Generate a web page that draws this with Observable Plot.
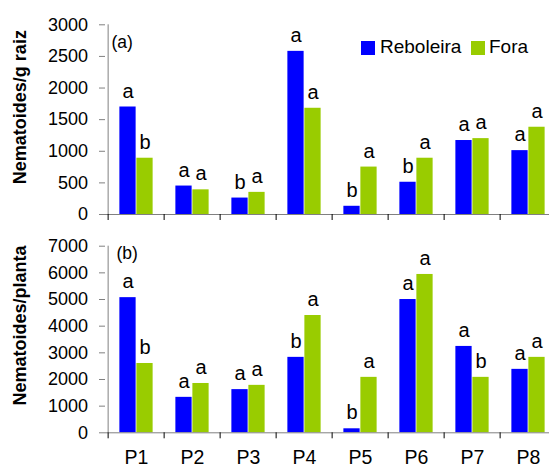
<!DOCTYPE html>
<html>
<head>
<meta charset="utf-8">
<script src="https://cdn.jsdelivr.net/npm/d3@7"></script>
<script src="https://cdn.jsdelivr.net/npm/@observablehq/plot@0.6"></script>
<style>
  html, body { margin: 0; padding: 0; background: #fff; overflow: hidden; }
  #chart { position: relative; width: 549px; height: 468px; font-family: "Liberation Sans", Arial, sans-serif; }
  #chart svg { display: block; overflow: visible; }
  .legend { position: absolute; top: 0; left: 0; font-size: 19px; color: #000; line-height: 19px; }
  .legend .sw { position: absolute; width: 14px; height: 14px; }
  .legend .lb { position: absolute; white-space: nowrap; }
</style>
</head>
<body>
<div id="chart"></div>
<script>
// ---- data ----
const categories = ["P1", "P2", "P3", "P4", "P5", "P6", "P7", "P8"];
const seriesNames = ["Reboleira", "Fora"];
const seriesColors = ["#0000FF", "#99CC00"];

const raizReboleira = [1700, 450, 260, 2580, 130, 510, 1170, 1010];
const raizFora      = [890, 390, 350, 1680, 750, 890, 1200, 1380];
const raizLetrasReboleira = ["a", "a", "b", "a", "b", "b", "a", "a"];
const raizLetrasFora      = ["b", "a", "a", "a", "a", "a", "a", "a"];
const raizTicks = [0, 500, 1000, 1500, 2000, 2500, 3000];

const plantaReboleira = [5070, 1330, 1620, 2830, 150, 5000, 3240, 2380];
const plantaFora      = [2600, 1850, 1780, 4400, 2080, 5940, 2080, 2830];
const plantaLetrasReboleira = ["a", "a", "a", "b", "b", "a", "a", "a"];
const plantaLetrasFora      = ["b", "a", "a", "a", "a", "a", "b", "a"];
const plantaTicks = [0, 1000, 2000, 3000, 4000, 5000, 6000, 7000];

const titles = ["Nematoides/g raiz", "Nematoides/planta"];
const panelTags = ["(a)", "(b)"];

// ---- layout ----
const W = 549;
const xStart = 105, xEnd = 559;
const step = (xEnd - xStart) / categories.length;
const barW = 17;
const inset = (step - barW) / 2;
const FONT = "Liberation Sans, Arial, sans-serif";
const axisGray = "#808080";

function panel(o) {
  const rowsR = categories.map((c, i) => ({cat: c, value: o.reb[i], letter: o.letR[i]}));
  const rowsF = categories.map((c, i) => ({cat: c, value: o.fora[i], letter: o.letF[i]}));
  const marks = [
    Plot.barY(rowsR, {x: "cat", y: "value", fill: seriesColors[0], insetLeft: inset, insetRight: inset, dx: -barW / 2}),
    Plot.barY(rowsF, {x: "cat", y: "value", fill: seriesColors[1], insetLeft: inset, insetRight: inset, dx: barW / 2}),
    Plot.text(rowsR, {x: "cat", y: "value", text: "letter", dx: -barW / 2, dy: -9.5, lineAnchor: "bottom", fontSize: 20, fill: "#000"}),
    Plot.text(rowsF, {x: "cat", y: "value", text: "letter", dx: barW / 2, dy: -9.5, lineAnchor: "bottom", fontSize: 20, fill: "#000"}),
    Plot.ruleY([0], {stroke: axisGray}),
    Plot.ruleX([categories[0]], {x: d => d, y1: o.yTicks[0], y2: o.yTicks[o.yTicks.length - 1], dx: -step / 2, stroke: axisGray}),
    Plot.axisY({ticks: o.yTicks, tickFormat: d3.format("d"), tickSize: 6, tickPadding: 11.5, fontSize: 18, stroke: axisGray, fill: "#000", label: null}),
    Plot.axisX({tickSize: 6, fill: "none", stroke: "#000", dx: -step / 2, label: null}),
    Plot.text([o.title], {text: d => d, frameAnchor: "left", rotate: -90, dx: 20 - xStart, dy: o.titleDy, fontSize: 18, fontWeight: "bold", textAnchor: "middle", lineAnchor: "middle", fill: "#000"}),
    Plot.text([o.tag], {text: d => d, frameAnchor: "top-left", dx: o.tagDx, dy: o.tagDy, fontSize: 17.5, textAnchor: "start", lineAnchor: "bottom", fill: "#000"})
  ];
  if (o.showX) {
    marks.push(Plot.axisX({tickSize: 0, tickPadding: 17, fontSize: 19.5, fill: "#000", label: null}));
  }
  return Plot.plot({
    width: W,
    height: o.height,
    marginLeft: xStart,
    marginRight: W - xEnd,
    marginTop: o.marginTop,
    marginBottom: o.marginBottom,
    style: {fontFamily: FONT, background: "#fff", overflow: "visible"},
    x: {type: "band", domain: categories, padding: 0, label: null},
    y: {domain: [o.yTicks[0], o.yTicks[o.yTicks.length - 1]], label: null},
    marks
  });
}

const chart = document.getElementById("chart");

chart.append(panel({
  reb: raizReboleira, fora: raizFora, letR: raizLetrasReboleira, letF: raizLetrasFora,
  yTicks: raizTicks, title: titles[0], tag: panelTags[0],
  height: 230, marginTop: 24.3, marginBottom: 16, showX: false,
  titleDy: -12.5, tagDx: 6, tagDy: 23.4
}));

chart.append(panel({
  reb: plantaReboleira, fora: plantaFora, letR: plantaLetrasReboleira, letF: plantaLetrasFora,
  yTicks: plantaTicks, title: titles[1], tag: panelTags[1],
  height: 238, marginTop: 15.7, marginBottom: 35.7, showX: true,
  titleDy: -14, tagDx: 11, tagDy: 12.5
}));

// legend (inside top panel, upper right)
const legend = document.createElement("div");
legend.className = "legend";
const legendPos = [{sw: 361, lb: 380}, {sw: 471, lb: 489}];
seriesNames.forEach((name, i) => {
  const sw = document.createElement("div");
  sw.className = "sw";
  sw.style.left = legendPos[i].sw + "px";
  sw.style.top = "41px";
  sw.style.background = seriesColors[i];
  const lb = document.createElement("div");
  lb.className = "lb";
  lb.style.left = legendPos[i].lb + "px";
  lb.style.top = "37px";
  lb.textContent = name;
  legend.append(sw, lb);
});
chart.append(legend);
</script>
</body>
</html>
